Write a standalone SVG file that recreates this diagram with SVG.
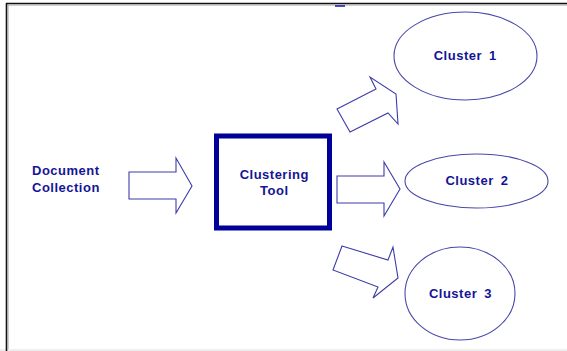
<svg xmlns="http://www.w3.org/2000/svg" width="567" height="351" viewBox="0 0 567 351">
<style>
.lbl{font-family:"Liberation Sans",Arial,sans-serif;font-size:13px;font-weight:bold;fill:#141496;letter-spacing:0.5px;word-spacing:3px}
.mid{text-anchor:middle}
.shape{fill:#ffffff;stroke:#3c3caa;stroke-width:1.1;stroke-linejoin:miter}
.ell{fill:#ffffff;stroke:#4848aa;stroke-width:1.1}
</style>
<rect x="0" y="0" width="567" height="351" fill="#ffffff"/>
<rect x="0" y="349" width="567" height="2" fill="#eeeeee"/>
<g id="frame">
<line x1="6" y1="3.5" x2="567" y2="3.5" stroke="#111111" stroke-width="1.6"/>
<line x1="7.5" y1="5" x2="567" y2="5" stroke="#a0a0a0" stroke-width="1"/>
<line x1="6.5" y1="3" x2="6.5" y2="351" stroke="#111111" stroke-width="1.6"/>
<line x1="8" y1="5" x2="8" y2="349" stroke="#a0a0a0" stroke-width="1"/>
<line x1="335" y1="6" x2="345" y2="6" stroke="#1010b0" stroke-width="1.5"/>
</g>
<g id="document-collection">
<text class="lbl" x="32" y="175">Document</text>
<text class="lbl" x="32" y="191.5">Collection</text>
</g>
<g id="clustering-tool">
<rect x="216.5" y="136" width="113" height="92" fill="#ffffff" stroke="#000099" stroke-width="5"/>
<text class="lbl mid" x="274.3" y="179.3">Clustering</text>
<text class="lbl mid" x="274.3" y="195">Tool</text>
</g>
<g id="cluster-1">
<ellipse class="ell" cx="465.5" cy="56" rx="71.5" ry="44"/>
<text class="lbl mid" x="465.3" y="60">Cluster 1</text>
</g>
<g id="cluster-2">
<ellipse class="ell" cx="476.5" cy="181" rx="71.5" ry="27"/>
<text class="lbl mid" x="477" y="185.3">Cluster 2</text>
</g>
<g id="cluster-3">
<ellipse class="ell" cx="460" cy="293.5" rx="55" ry="46.5"/>
<text class="lbl mid" x="460.5" y="298">Cluster 3</text>
</g>
<g id="connectors">
<polygon class="shape" points="129,172 176,172 176,158 192,186 176,213 176,199 129,199"/>
<polygon class="shape" points="337,176 384,176 384,162 400,189 384,216 384,203 337,203"/>
<polygon class="shape" points="337,109 376,89 370,77 396,94 398,124 388,113 350,132"/>
<polygon class="shape" points="342,246 388,260 393,247 398,278 373,298 378,287 333,270"/>
</g>
</svg>
